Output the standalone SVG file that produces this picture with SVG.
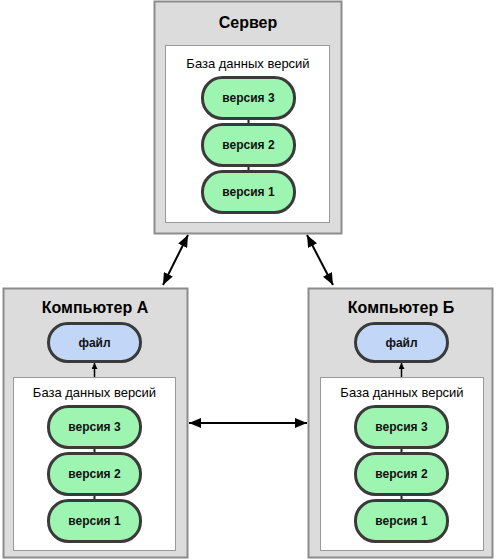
<svg xmlns="http://www.w3.org/2000/svg" width="496" height="560" viewBox="0 0 496 560">
<style>
.box{fill:#dcdcdc;stroke:#8c8c8c;stroke-width:2}
.db{fill:#ffffff;stroke:#999999;stroke-width:1}
.ver{fill:#9ef5b2;stroke:#3a3a3a;stroke-width:3}
.file{fill:#c2d6f8;stroke:#3a3a3a;stroke-width:3}
.title{font-family:"Liberation Sans",Arial,sans-serif;font-weight:bold;font-size:16px;fill:#000;text-anchor:middle}
.dbt{font-family:"Liberation Sans",Arial,sans-serif;font-size:13px;fill:#000;text-anchor:middle}
.vt{font-family:"Liberation Sans",Arial,sans-serif;font-weight:bold;font-size:12px;fill:#111;text-anchor:middle;dominant-baseline:central}
.link{stroke:#222;stroke-width:2;fill:none}
.arr{stroke:#000;stroke-width:2;fill:none;marker-start:url(#ah);marker-end:url(#ah)}
.up{stroke:#000;stroke-width:1.5;fill:none;marker-end:url(#sh)}
</style>
<defs>
<marker id="ah" viewBox="0 0 12 10" refX="12" refY="5" markerWidth="12" markerHeight="10" markerUnits="userSpaceOnUse" orient="auto-start-reverse">
<path d="M0,0 L12,5 L0,10 z" fill="#000"/>
</marker>
<marker id="sh" viewBox="0 0 6 6" refX="6" refY="3" markerWidth="6" markerHeight="6" markerUnits="userSpaceOnUse" orient="auto">
<path d="M0,0 L6,3 L0,6 z" fill="#000"/>
</marker>
</defs>

<g id="server">
<rect class="box" x="154.5" y="1.5" width="187" height="232"/>
<text class="title" x="248" y="28">Сервер</text>
<rect class="db" x="165.5" y="45.5" width="164" height="177"/>
<text class="dbt" x="248" y="68">База данных версий</text>
<line class="link" x1="248.5" y1="118" x2="248.5" y2="124"/>
<line class="link" x1="248.5" y1="166" x2="248.5" y2="172"/>
<g id="server-v3"><rect class="ver" x="202.5" y="77.5" width="92" height="41" rx="20"/><text class="vt" x="248.5" y="98">версия 3</text></g>
<g id="server-v2"><rect class="ver" x="202.5" y="124.5" width="92" height="41" rx="20"/><text class="vt" x="248.5" y="145">версия 2</text></g>
<g id="server-v1"><rect class="ver" x="202.5" y="171.5" width="92" height="41" rx="20"/><text class="vt" x="248.5" y="192">версия 1</text></g>
</g>

<g id="computer-a">
<rect class="box" x="3.5" y="288.5" width="184" height="269"/>
<text class="title" x="95" y="313">Компьютер А</text>
<rect class="db" x="13.5" y="377.5" width="162" height="173"/>
<text class="dbt" x="94.5" y="397">База данных версий</text>
<line class="link" x1="94.5" y1="447" x2="94.5" y2="453"/>
<line class="link" x1="94.5" y1="494" x2="94.5" y2="500"/>
<g id="a-file"><rect class="file" x="48.5" y="323.5" width="92" height="38" rx="19"/><text class="vt" x="94.5" y="343">файл</text></g>
<g id="a-v3"><rect class="ver" x="48.5" y="406.5" width="92" height="41" rx="20"/><text class="vt" x="94.5" y="427">версия 3</text></g>
<g id="a-v2"><rect class="ver" x="48.5" y="453.5" width="92" height="41" rx="20"/><text class="vt" x="94.5" y="474">версия 2</text></g>
<g id="a-v1"><rect class="ver" x="48.5" y="500.5" width="92" height="41" rx="20"/><text class="vt" x="94.5" y="521">версия 1</text></g>
</g>

<g id="computer-b">
<rect class="box" x="308.5" y="288.5" width="184" height="269"/>
<text class="title" x="401" y="313">Компьютер Б</text>
<rect class="db" x="320.5" y="377.5" width="163" height="173"/>
<text class="dbt" x="402" y="397">База данных версий</text>
<line class="link" x1="401.5" y1="447" x2="401.5" y2="453"/>
<line class="link" x1="401.5" y1="494" x2="401.5" y2="500"/>
<g id="b-file"><rect class="file" x="355.5" y="323.5" width="92" height="38" rx="19"/><text class="vt" x="401.5" y="343">файл</text></g>
<g id="b-v3"><rect class="ver" x="355.5" y="406.5" width="92" height="41" rx="20"/><text class="vt" x="401.5" y="427">версия 3</text></g>
<g id="b-v2"><rect class="ver" x="355.5" y="453.5" width="92" height="41" rx="20"/><text class="vt" x="401.5" y="474">версия 2</text></g>
<g id="b-v1"><rect class="ver" x="355.5" y="500.5" width="92" height="41" rx="20"/><text class="vt" x="401.5" y="521">версия 1</text></g>
</g>

<g id="connectors">
<line class="arr" x1="188" y1="235" x2="163" y2="285"/>
<line class="arr" x1="307" y1="235" x2="333" y2="285"/>
<line class="arr" x1="189" y1="423" x2="307" y2="423"/>
<line class="up" x1="94.5" y1="377" x2="94.5" y2="363"/>
<line class="up" x1="401.5" y1="377" x2="401.5" y2="363"/>
</g>
</svg>
